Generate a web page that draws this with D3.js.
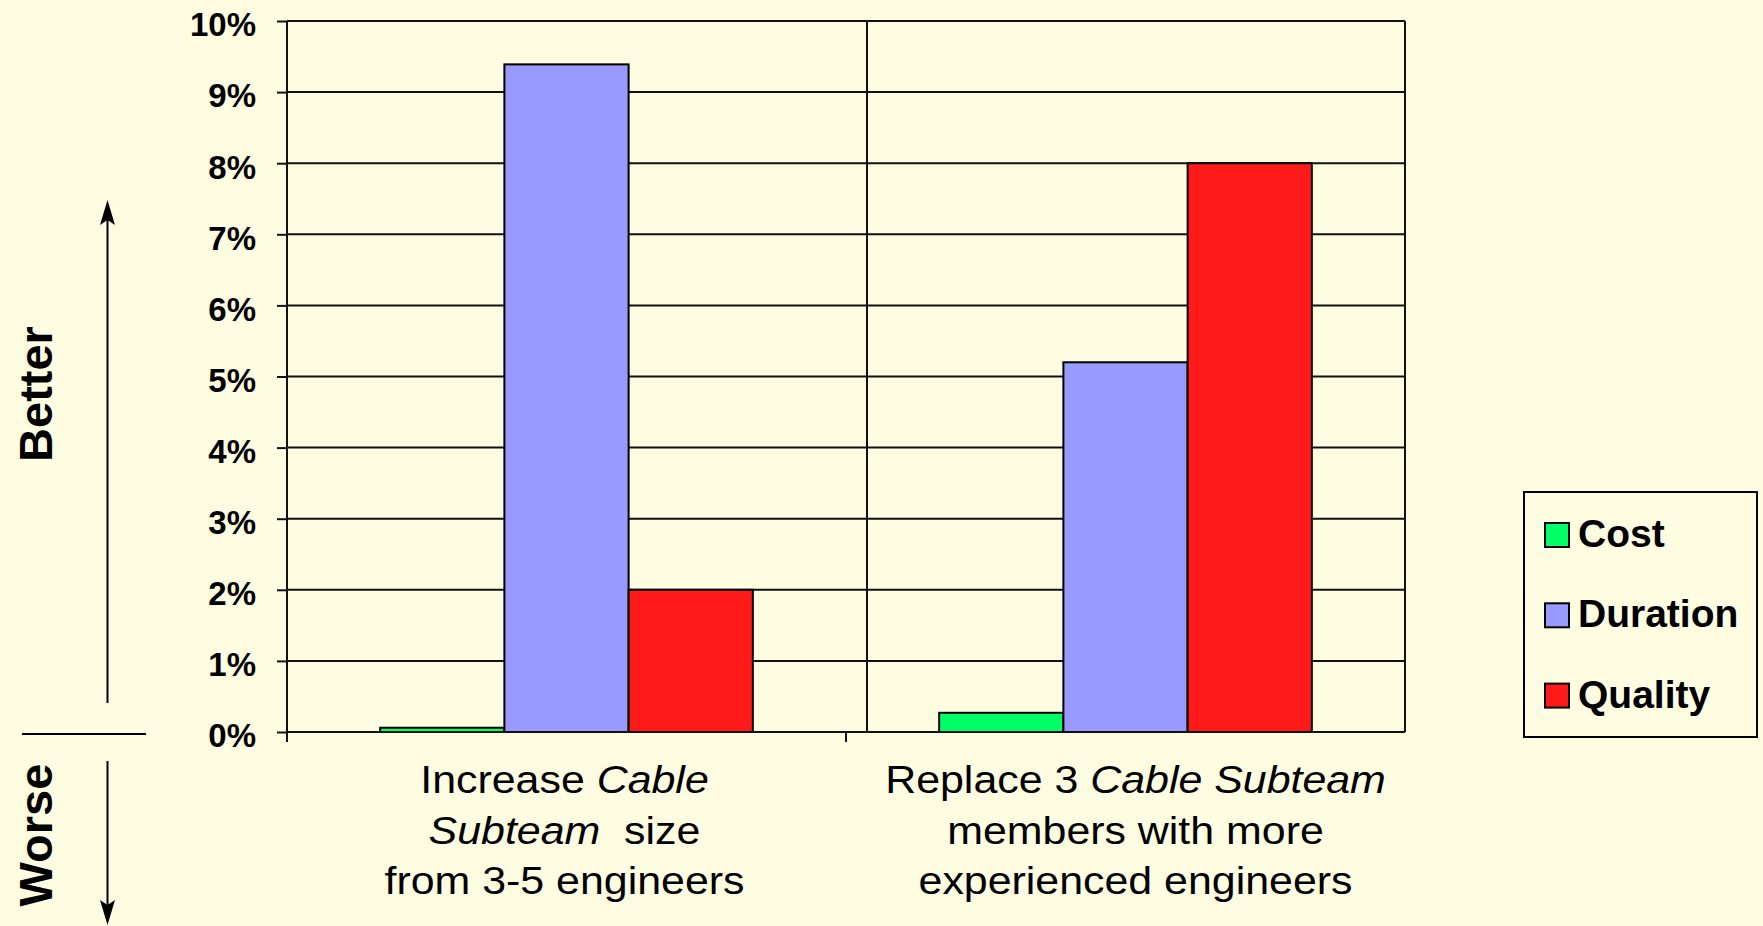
<!DOCTYPE html>
<html>
<head>
<meta charset="utf-8">
<script src="https://cdn.jsdelivr.net/npm/d3@7"></script>
<style>
  html, body { margin: 0; padding: 0; background: #FEFCE1; }
  svg { display: block; font-family: "Liberation Sans", Arial, sans-serif; }
</style>
</head>
<body>
<svg id="chart" width="1763" height="926"></svg>
<script>
// ---------- DATA ----------
const categories = ["Increase Cable Subteam size", "Replace 3 Cable Subteam members"];
const seriesNames = ["Cost", "Duration", "Quality"];
const costValues = [0.06, 0.27];
const durationValues = [9.39, 5.2];
const qualityValues = [2.0, 8.0];
const yTickValues = [0, 1, 2, 3, 4, 5, 6, 7, 8, 9, 10];
const seriesColors = ["#00FF66", "#9999FF", "#FF1A1A"];
// category label lines: each line is a list of [text, italic]
const categoryLabelLines = [
  [[["Increase ", false], ["Cable", true]],
   [["Subteam", true], ["  size", false]],
   [["from 3-5 engineers", false]]],
  [[["Replace 3 ", false], ["Cable Subteam", true]],
   [["members with more", false]],
   [["experienced engineers", false]]]
];
const sideLabels = ["Better", "Worse"];

// ---------- LAYOUT ----------
const plotLeft = 287, plotRight = 1405, plotTop = 21, plotBottom = 732;
const labelDx = [-2, 10];

const svg = d3.select("#chart");
svg.append("rect").attr("width", 1763).attr("height", 926).attr("fill", "#FEFCE1");

const x = d3.scaleBand().domain(categories).range([plotLeft, plotRight]).paddingInner(0).paddingOuter(0);
const xs = d3.scaleBand().domain(seriesNames).range([0, x.bandwidth()]).paddingInner(0).paddingOuter(0.75);
const y = d3.scaleLinear().domain([0, 10]).range([plotBottom, plotTop]);
const color = d3.scaleOrdinal().domain(seriesNames).range(seriesColors);

const table = categories.map((c, i) => ({
  cat: c,
  values: [
    {s: "Cost", v: costValues[i]},
    {s: "Duration", v: durationValues[i]},
    {s: "Quality", v: qualityValues[i]}
  ]
}));

// gridlines
svg.append("g").selectAll("line").data(yTickValues).join("line")
  .attr("x1", plotLeft).attr("x2", plotRight)
  .attr("y1", d => y(d)).attr("y2", d => y(d))
  .attr("stroke", "#111").attr("stroke-width", 2);

// separator vertical line in plot
svg.append("line")
  .attr("x1", x(categories[1]) + 21).attr("x2", x(categories[1]) + 21)
  .attr("y1", y(10)).attr("y2", y(0))
  .attr("stroke", "#111").attr("stroke-width", 2);

// right border
svg.append("line").attr("x1", plotRight).attr("x2", plotRight)
  .attr("y1", y(10)).attr("y2", y(0)).attr("stroke", "#111").attr("stroke-width", 2);

// bars
const groups = svg.append("g").selectAll("g").data(table).join("g")
  .attr("transform", d => `translate(${x(d.cat)},0)`);
groups.selectAll("rect").data(d => d.values).join("rect")
  .attr("x", d => xs(d.s))
  .attr("width", xs.bandwidth())
  .attr("y", d => y(d.v))
  .attr("height", d => y(0) - y(d.v))
  .attr("fill", d => color(d.s))
  .attr("stroke", "#000").attr("stroke-width", 2);

// y axis
const yAxis = svg.append("g").attr("transform", `translate(${plotLeft},0)`)
  .call(d3.axisLeft(y).tickValues(yTickValues).tickSize(10).tickPadding(21).tickFormat(d => d + "%"));
yAxis.select(".domain").remove();
yAxis.selectAll(".tick line").attr("stroke", "#111").attr("stroke-width", 2);
yAxis.selectAll(".tick text")
  .attr("font-family", "Liberation Sans, Arial, sans-serif")
  .attr("font-size", 33).attr("font-weight", "bold").attr("fill", "#000")
  .attr("dy", "0.45em");
svg.append("line").attr("x1", plotLeft).attr("x2", plotLeft)
  .attr("y1", y(10)).attr("y2", y(0) + 10).attr("stroke", "#111").attr("stroke-width", 2);

// x axis (baseline and boundary ticks)
svg.append("line").attr("x1", plotLeft).attr("x2", plotRight)
  .attr("y1", y(0)).attr("y2", y(0)).attr("stroke", "#111").attr("stroke-width", 2);
const boundaries = categories.map(c => x(c));
svg.append("g").selectAll("line").data(boundaries).join("line")
  .attr("x1", d => d).attr("x2", d => d)
  .attr("y1", y(0)).attr("y2", y(0) + 10)
  .attr("stroke", "#111").attr("stroke-width", 2);

// category labels
categoryLabelLines.forEach((lines, i) => {
  const cx = x(categories[i]) + x.bandwidth() / 2 + labelDx[i];
  const g = svg.append("g").attr("transform", `translate(${cx},0) scale(1.1,1)`);
  lines.forEach((runs, j) => {
    const t = g.append("text")
      .attr("x", 0).attr("y", 793 + j * 50.7)
      .attr("text-anchor", "middle")
      .attr("font-size", 39)
      .attr("fill", "#000")
      .style("white-space", "pre");
    runs.forEach(([txt, it]) => {
      t.append("tspan").text(txt).attr("font-style", it ? "italic" : "normal");
    });
  });
});

// legend
const legend = svg.append("g");
legend.append("rect").attr("x", 1524).attr("y", 492).attr("width", 233).attr("height", 245)
  .attr("fill", "#FEFCE1").attr("stroke", "#000").attr("stroke-width", 2);
const li = legend.selectAll("g").data(seriesNames).join("g")
  .attr("transform", (d, i) => `translate(1545,${523 + i * 80.3})`);
li.append("rect").attr("width", 24).attr("height", 24)
  .attr("fill", d => color(d)).attr("stroke", "#000").attr("stroke-width", 2);
li.append("text").attr("x", 33).attr("y", 24).text(d => d)
  .attr("font-size", 39).attr("font-weight", "bold").attr("fill", "#000");

// side labels
svg.append("text").attr("transform", "translate(52,394) rotate(-90)")
  .attr("text-anchor", "middle").attr("font-size", 47).attr("font-weight", "bold").text(sideLabels[0]);
svg.append("text").attr("transform", "translate(52,835) rotate(-90)")
  .attr("text-anchor", "middle").attr("font-size", 47).attr("font-weight", "bold").text(sideLabels[1]);

// arrows
svg.append("line").attr("x1", 107.5).attr("x2", 107.5).attr("y1", 703).attr("y2", 210)
  .attr("stroke", "#000").attr("stroke-width", 2);
svg.append("path").attr("d", "M107.5,200 L115,225 L107.5,220 L100,225 Z").attr("fill", "#000");
svg.append("line").attr("x1", 107.5).attr("x2", 107.5).attr("y1", 761).attr("y2", 915)
  .attr("stroke", "#000").attr("stroke-width", 2);
svg.append("path").attr("d", "M107.5,925 L115,900 L107.5,905 L100,900 Z").attr("fill", "#000");
svg.append("line").attr("x1", 22).attr("x2", 146).attr("y1", 734).attr("y2", 734)
  .attr("stroke", "#000").attr("stroke-width", 2);
</script>
</body>
</html>
